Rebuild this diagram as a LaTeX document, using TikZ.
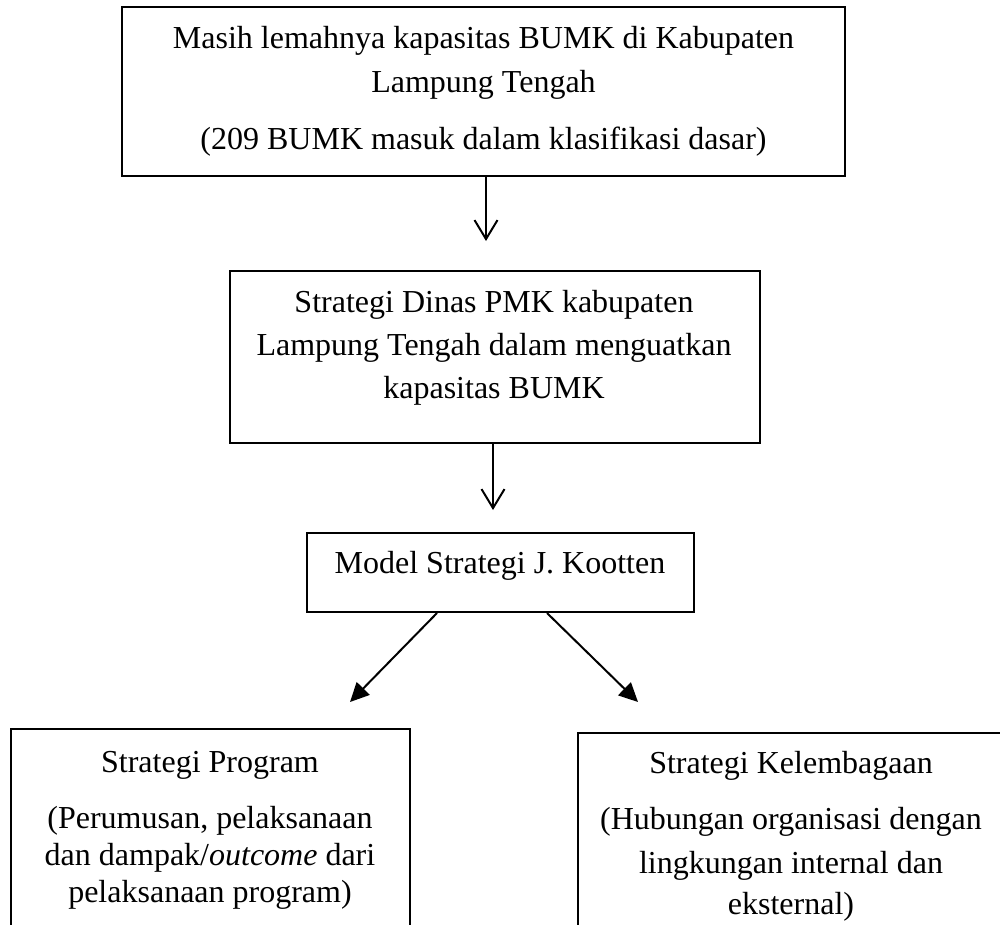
\documentclass[tikz,border=0pt]{standalone}
\usepackage{fontspec}
\setmainfont{Liberation Serif}
\usetikzlibrary{arrows.meta}
\begin{document}
\begin{tikzpicture}[x=1pt,y=-1pt,
  box/.style={draw=black,line width=2pt,inner sep=0pt,fill=none},
  txt/.style={anchor=base,inner sep=0pt,font=\fontsize{32pt}{38pt}\selectfont},
  openarr/.style={line width=2pt,-{Straight Barb[length=19pt,width=23pt,line width=2pt]}},
  fillarr/.style={line width=2pt,-{Triangle[length=19pt,width=18pt]}}]
\useasboundingbox (0,0) rectangle (1000,924);
\clip (0,0) rectangle (1000,924);
\fill[white] (0,0) rectangle (1000,924);
% boxes
\node[box,minimum width=723pt,minimum height=169pt] (b1) at (483.5,91.5) {};
\node[box,minimum width=530pt,minimum height=172pt] (b2) at (495,357) {};
\node[box,minimum width=387pt,minimum height=79pt] (b3) at (500.5,572.5) {};
\node[box,minimum width=399pt,minimum height=231pt] (b4) at (210.5,844.5) {};
\node[box,minimum width=426pt,minimum height=227pt] (b5) at (791,846.5) {};
% texts
\node[txt] (t1a) at (483.5,48) {Masih lemahnya kapasitas BUMK di Kabupaten};
\node[txt] (t1b) at (483.5,92) {Lampung Tengah};
\node[txt] (t1c) at (483.5,149) {(209 BUMK masuk dalam klasifikasi dasar)};
\node[txt] (t2a) at (494,312) {Strategi Dinas PMK kabupaten};
\node[txt] (t2b) at (494,355) {Lampung Tengah dalam menguatkan};
\node[txt] (t2c) at (494,398) {kapasitas BUMK};
\node[txt] (t3a) at (500,573) {Model Strategi J. Kootten};
\node[txt] (t4a) at (210,772) {Strategi Program};
\node[txt] (t4b) at (210,828) {(Perumusan, pelaksanaan};
\node[txt] (t4c) at (210,865) {dan dampak/\textit{outcome} dari};
\node[txt] (t4d) at (210,902) {pelaksanaan program)};
\node[txt] (t5a) at (791,773) {Strategi Kelembagaan};
\node[txt] (t5b) at (791,829) {(Hubungan organisasi dengan};
\node[txt] (t5c) at (791,873) {lingkungan internal dan};
\node[txt] (t5d) at (791,914) {eksternal)};
% connectors
\coordinate (e1) at (486,241);
\coordinate (e2) at (493,510);
\coordinate (e3) at (350,702);
\coordinate (e4) at (638,702);
\draw[openarr] (b1.south -| e1) -- (e1);
\draw[openarr] (b2.south -| e2) -- (e2);
\draw[fillarr] ([xshift=-63.5pt]b3.south) -- (e3);
\draw[fillarr] ([xshift=46.5pt]b3.south) -- (e4);
\end{tikzpicture}
\end{document}
